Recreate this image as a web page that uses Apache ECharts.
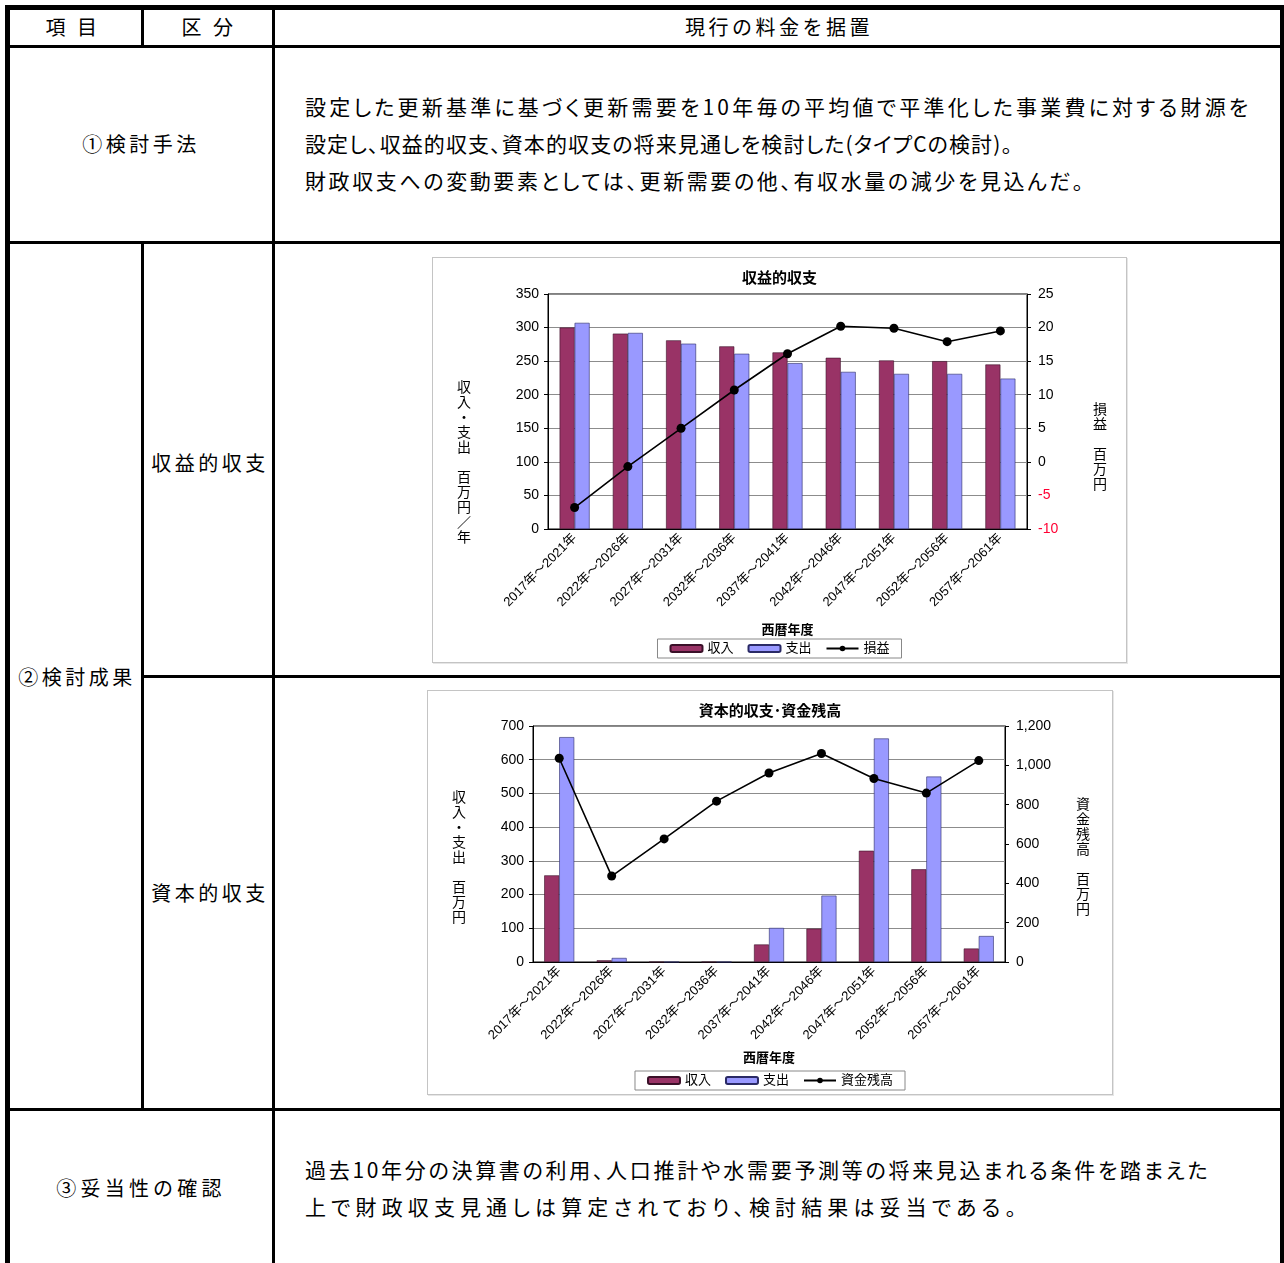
<!DOCTYPE html>
<html lang="ja">
<head>
<meta charset="UTF-8">
<title>財政収支見通し</title>
<script src="https://cdn.jsdelivr.net/npm/echarts@6/dist/echarts.min.js"></script>
<style>
  body {
    margin: 0;
    width: 1284px;
    height: 1263px;
    position: relative;
    overflow: hidden;
    background: #fff;
    color: #000;
    font-family: "Noto Sans CJK JP", sans-serif;
  }
  .ln { position: absolute; background: #000; }
  .c {
    position: absolute;
    transform: translate(-50%, -50%);
    white-space: nowrap;
    font-size: 20px;
    letter-spacing: 3.5px;
    line-height: 1;
  }
  .txt {
    position: absolute;
    left: 305px;
    font-size: 21px;
    line-height: 37px;
    white-space: nowrap;
    font-feature-settings: "palt" 1;
  }
  .txt div { height: 37px; }
  .frame {
    position: absolute;
    box-sizing: border-box;
    border: 1px solid #c4c4c4;
    box-shadow: 1px 1px 0 #e6e6e6;
    background: #fff;
  }
</style>
</head>
<body>
  <!-- table rules -->
  <div class="ln" style="left:5px;top:5px;width:1279px;height:5px"></div>
  <div class="ln" style="left:5px;top:5px;width:5px;height:1258px"></div>
  <div class="ln" style="left:1280px;top:5px;width:4px;height:1258px"></div>
  <div class="ln" style="left:5px;top:45px;width:1279px;height:3px"></div>
  <div class="ln" style="left:5px;top:241px;width:1279px;height:3px"></div>
  <div class="ln" style="left:141px;top:675px;width:1143px;height:3px"></div>
  <div class="ln" style="left:5px;top:1108px;width:1279px;height:3px"></div>
  <div class="ln" style="left:141px;top:5px;width:3px;height:43px"></div>
  <div class="ln" style="left:141px;top:241px;width:3px;height:870px"></div>
  <div class="ln" style="left:272px;top:5px;width:3px;height:1258px"></div>

  <!-- cell texts -->
  <div class="c" style="left:73px;top:27px">項 目</div>
  <div class="c" style="left:209px;top:27px">区 分</div>
  <div class="c" style="left:779px;top:27px">現行の料金を据置</div>
  <div class="c" style="left:141px;top:144px">①検討手法</div>
  <div class="c" style="left:77px;top:677px">②検討成果</div>
  <div class="c" style="left:210px;top:463px">収益的収支</div>
  <div class="c" style="left:210px;top:893px">資本的収支</div>
  <div class="c" style="left:141px;top:1188px;letter-spacing:4.2px">③妥当性の確認</div>

  <div class="txt" style="top:88px">
    <div style="letter-spacing:3.2px">設定した更新基準に基づく更新需要を10年毎の平均値で平準化した事業費に対する財源を</div>
    <div style="letter-spacing:1.1px">設定し、収益的収支、資本的収支の将来見通しを検討した(タイプCの検討)。</div>
    <div style="letter-spacing:2.6px">財政収支への変動要素としては、更新需要の他、有収水量の減少を見込んだ。</div>
  </div>
  <div class="txt" style="top:1151px">
    <div style="letter-spacing:2.7px">過去10年分の決算書の利用、人口推計や水需要予測等の将来見込まれる条件を踏まえた</div>
    <div style="letter-spacing:5.1px">上で財政収支見通しは算定されており、検討結果は妥当である。</div>
  </div>

  <div class="frame" id="chart1" style="left:432px;top:257px;width:695px;height:406px"></div>
  <div class="frame" id="chart2" style="left:427px;top:690px;width:686px;height:405px"></div>

<script>
  const categories = ['2017年～2021年', '2022年～2026年', '2027年～2031年', '2032年～2036年',
    '2037年～2041年', '2042年～2046年', '2047年～2051年', '2052年～2056年', '2057年～2061年'];

  // 収益的収支 (百万円/年)
  const revenue1 = [300, 291, 281, 272, 263, 255, 251, 250, 245];
  const expense1 = [307, 292, 276, 261, 247, 234, 231, 231, 224];
  const profit1 = [-6.8, -0.7, 5.0, 10.7, 16.1, 20.2, 19.9, 17.9, 19.5];

  // 資本的収支 (百万円) と 資金残高
  const revenue2 = [257, 5, 0, 0, 52, 99, 330, 275, 40];
  const expense2 = [667, 12, 0, 0, 101, 197, 663, 550, 77];
  const balance2 = [1036, 437, 626, 818, 961, 1060, 933, 859, 1024];

  const FONT = "'Liberation Sans', 'Noto Sans CJK JP', sans-serif";
  const INCOME_COLOR = '#993366';
  const OUTGO_COLOR = '#9999ff';

  function vText(x, y, str) {
    return {
      type: 'text',
      x: x,
      y: y,
      style: {
        text: str.split('').join('\n'),
        textAlign: 'center',
        textVerticalAlign: 'middle',
        fontSize: 14,
        lineHeight: 15,
        fontFamily: FONT,
        fill: '#000'
      }
    };
  }

  function makeOption(cfg) {
    return {
      animation: false,
      textStyle: { fontFamily: FONT },
      title: {
        text: cfg.title,
        left: 'center',
        top: 8,
        textStyle: { fontSize: 15, fontWeight: 'bold', color: '#000', fontFamily: FONT }
      },
      grid: cfg.grid,
      legend: {
        data: ['収入', '支出', cfg.lineName],
        top: cfg.legendTop,
        left: 'center',
        borderColor: '#888',
        borderWidth: 1,
        padding: [3, 12],
        itemGap: 14,
        itemWidth: 32,
        itemHeight: 7,
        textStyle: { fontSize: 13, color: '#000' }
      },
      xAxis: {
        type: 'category',
        data: categories,
        name: '西暦年度',
        nameLocation: 'middle',
        nameGap: cfg.nameGap,
        nameTextStyle: { fontSize: 13, fontWeight: 'bold', color: '#000' },
        axisLine: { lineStyle: { color: '#000' } },
        axisTick: { length: 4, lineStyle: { color: '#000' } },
        axisLabel: { rotate: 45, interval: 0, fontSize: 13, color: '#000', margin: 7 }
      },
      yAxis: [
        {
          type: 'value',
          min: cfg.left.min,
          max: cfg.left.max,
          interval: cfg.left.interval,
          axisLine: { show: true, lineStyle: { color: '#000' } },
          axisTick: { show: true, length: 4, lineStyle: { color: '#000' } },
          axisLabel: { fontSize: 14, color: '#000', margin: 9 },
          splitLine: { lineStyle: { color: '#8c8c8c' } }
        },
        {
          type: 'value',
          min: cfg.right.min,
          max: cfg.right.max,
          interval: cfg.right.interval,
          axisLine: { show: true, lineStyle: { color: '#000' } },
          axisTick: { show: true, length: 4, lineStyle: { color: '#000' } },
          axisLabel: {
            fontSize: 14,
            margin: 11,
            color: v => (Number(v) < 0 ? '#ff0033' : '#000'),
            formatter: v => Number(v).toLocaleString('en-US')
          },
          splitLine: { show: false }
        }
      ],
      series: [
        {
          name: '収入',
          type: 'bar',
          data: cfg.income,
          barWidth: 15,
          barGap: '0%',
          itemStyle: { color: INCOME_COLOR, borderColor: '#3a1028', borderWidth: 0.6 }
        },
        {
          name: '支出',
          type: 'bar',
          data: cfg.outgo,
          barWidth: 15,
          itemStyle: { color: OUTGO_COLOR, borderColor: '#2a2a66', borderWidth: 0.6 }
        },
        {
          name: cfg.lineName,
          type: 'line',
          yAxisIndex: 1,
          data: cfg.line,
          symbol: 'circle',
          symbolSize: 9,
          z: 5,
          lineStyle: { color: '#000', width: 1.6 },
          itemStyle: { color: '#000' }
        }
      ],
      graphic: [
        vText(cfg.leftName.x, cfg.leftName.y, cfg.leftName.text),
        vText(cfg.rightName.x, cfg.rightName.y, cfg.rightName.text)
      ]
    };
  }

  const chart1 = echarts.init(document.getElementById('chart1'));
  chart1.setOption(makeOption({
    title: '収益的収支',
    lineName: '損益',
    grid: { left: 115, right: 99, top: 36, bottom: 133, show: true, borderColor: '#000', borderWidth: 1 },
    nameGap: 95,
    legendTop: 381,
    left: { min: 0, max: 350, interval: 50 },
    right: { min: -10, max: 25, interval: 5 },
    income: revenue1,
    outgo: expense1,
    line: profit1,
    leftName: { x: 31, y: 205, text: '収入・支出 百万円／年' },
    rightName: { x: 667, y: 190, text: '損益 百万円' }
  }));

  const chart2 = echarts.init(document.getElementById('chart2'));
  chart2.setOption(makeOption({
    title: '資本的収支･資金残高',
    lineName: '資金残高',
    grid: { left: 105, right: 107, top: 35, bottom: 132, show: true, borderColor: '#000', borderWidth: 1 },
    nameGap: 90,
    legendTop: 380,
    left: { min: 0, max: 700, interval: 100 },
    right: { min: 0, max: 1200, interval: 200 },
    income: revenue2,
    outgo: expense2,
    line: balance2,
    leftName: { x: 31, y: 167, text: '収入・支出 百万円' },
    rightName: { x: 655, y: 167, text: '資金残高 百万円' }
  }));
</script>
</body>
</html>
